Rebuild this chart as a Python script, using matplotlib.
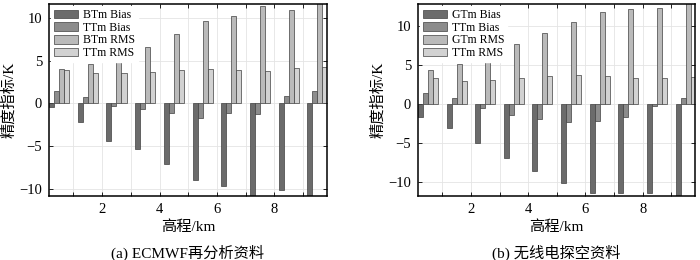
import matplotlib
matplotlib.use("Agg")
import matplotlib.pyplot as plt
import numpy as np

plt.rcParams['font.family'] = ['Liberation Serif', 'Noto Sans CJK SC']
plt.rcParams['axes.unicode_minus'] = True

# heights (km), bar groups centred at 0.5 .. 9.5
heights = [0.5, 1.5, 2.5, 3.5, 4.5, 5.5, 6.5, 7.5, 8.5, 9.5]

# (a) ECMWF reanalysis
btm_bias = [-0.45, -2.2, -4.4, -5.35, -7.1, -8.9, -9.6, -11.0, -10.1, -11.0]
ttm_bias_a = [1.5, 0.7, -0.35, -0.7, -1.1, -1.7, -1.1, -1.2, 0.85, 1.5]
btm_rms = [4.0, 4.6, 6.0, 6.6, 8.1, 9.6, 10.2, 11.3, 10.9, 11.8]
ttm_rms_a = [3.9, 3.5, 3.5, 3.65, 3.9, 4.0, 3.9, 3.75, 4.15, 4.3]

# (b) radiosonde
gtm_bias = [-1.7, -3.1, -5.0, -6.95, -8.65, -10.15, -11.4, -11.5, -11.5, -12.5]
ttm_bias_b = [1.4, 0.7, -0.55, -1.5, -2.0, -2.4, -2.25, -1.7, -0.3, 0.75]
gtm_rms = [4.35, 5.05, 6.0, 7.6, 9.1, 10.5, 11.7, 12.2, 12.3, 13.0]
ttm_rms_b = [3.25, 2.9, 3.05, 3.25, 3.55, 3.7, 3.55, 3.25, 3.25, 3.4]

colors = ['#6b6b6b', '#8c8c8c', '#bababa', '#d2d2d2']
bw = 0.175
offs = [-1.5 * bw, -0.5 * bw, 0.5 * bw, 1.5 * bw]

fig = plt.figure(figsize=(7, 2.6), dpi=100)
ax1 = fig.add_axes([0.070, 0.246, 0.397, 0.739])
ax2 = fig.add_axes([0.597, 0.246, 0.396, 0.739])


def draw(ax, series, names, ylim, caption):
    x = np.array(heights)
    for s, nm, c, o in zip(series, names, colors, offs):
        ax.bar(x + o, s, width=bw, color=c, edgecolor='#404040',
               linewidth=0.5, label=nm, zorder=2)
    ax.set_xlim(0.15, 9.83)
    ax.set_ylim(*ylim)
    ax.set_xticks(range(1, 10))
    ax.set_xticklabels(['' if i % 2 else str(i) for i in range(1, 10)])
    ax.set_yticks([-10, -5, 0, 5, 10])
    ax.set_yticklabels(['\u221210', '\u22125', '0', '5', '10'])
    ax.grid(True, color='#e4e4e4', linewidth=0.6, zorder=0)
    ax.set_axisbelow(True)
    ax.tick_params(direction='in', top=True, right=True, labelsize=10.5,
                   length=3, width=0.6, pad=5)
    for sp in ax.spines.values():
        sp.set_linewidth(1.1)
    ax.set_xlabel('高程/km', fontsize=11, labelpad=3)
    ax.set_ylabel('精度指标/K', fontsize=11, labelpad=2)
    leg = ax.legend(loc='upper left', fontsize=8.5, frameon=True, fancybox=False,
                    edgecolor='white', framealpha=1, borderpad=0.25,
                    labelspacing=0.05, handlelength=2.0, handleheight=0.75,
                    handletextpad=0.4, borderaxespad=0.2)
    leg.set_zorder(5)
    pos = ax.get_position()
    fig.text((pos.x0 + pos.x1) / 2, 0.027, caption, ha='center',
             va='center', fontsize=11)


draw(ax1, [btm_bias, ttm_bias_a, btm_rms, ttm_rms_a],
     ['BTm Bias', 'TTm Bias', 'BTm RMS', 'TTm RMS'], (-10.8, 11.6),
     '(a) ECMWF再分析资料')
draw(ax2, [gtm_bias, ttm_bias_b, gtm_rms, ttm_rms_b],
     ['GTm Bias', 'TTm Bias', 'GTm RMS', 'TTm RMS'], (-11.85, 12.8),
     '(b) 无线电探空资料')

fig.savefig('out.png', dpi=100)
